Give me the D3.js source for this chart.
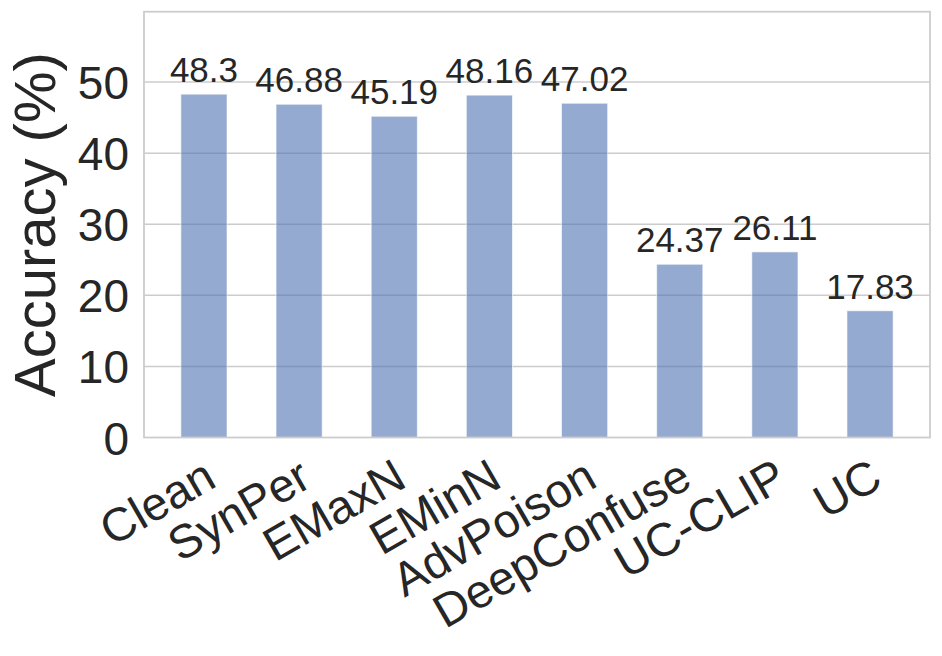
<!DOCTYPE html>
<html>
<head>
<meta charset="utf-8">
<script src="https://cdn.jsdelivr.net/npm/d3@7/dist/d3.min.js"></script>
<style>
  html, body { margin: 0; padding: 0; background: #ffffff; }
  svg { display: block; }
  text { font-family: "Liberation Sans", Arial, sans-serif; fill: #262626; }
</style>
</head>
<body>
<svg id="chart" width="942" height="656"></svg>
<script>
const categories = ["Clean", "SynPer", "EMaxN", "EMinN", "AdvPoison", "DeepConfuse", "UC-CLIP", "UC"];
const accuracy = [48.3, 46.88, 45.19, 48.16, 47.02, 24.37, 26.11, 17.83];
const yTicks = [0, 10, 20, 30, 40, 50];
const yLabel = "Accuracy (%)";

(function () {
const svg = d3.select("#chart");
const mLeft = 144, mRight = 930, mTop = 11.7, mBottom = 437.5;

const x = d3.scalePoint().domain(categories).range([mLeft, mRight]).padding(0.63);
const y = d3.scaleLinear().domain([0, 59.9]).range([mBottom, mTop]);
const barW = x.step() * 0.485;

// gridlines
svg.append("g").selectAll("line").data(yTicks.filter(d => d > 0)).join("line")
  .attr("x1", mLeft).attr("x2", mRight)
  .attr("y1", d => y(d)).attr("y2", d => y(d))
  .attr("stroke", "#cccccc").attr("stroke-width", 1.5);

// bars
svg.append("g").selectAll("rect").data(categories).join("rect")
  .attr("x", d => x(d) - barW / 2)
  .attr("width", barW)
  .attr("y", (d, i) => y(accuracy[i]))
  .attr("height", (d, i) => y(0) - y(accuracy[i]))
  .attr("fill", "#4c72b0").attr("fill-opacity", 0.6)
  .attr("stroke", "#ffffff").attr("stroke-opacity", 0.6).attr("stroke-width", 1);

// frame
svg.append("rect")
  .attr("x", mLeft).attr("y", mTop)
  .attr("width", mRight - mLeft).attr("height", mBottom - mTop)
  .attr("fill", "none").attr("stroke", "#cccccc").attr("stroke-width", 1.8);

// value labels
svg.append("g").selectAll("text").data(categories).join("text")
  .attr("x", d => x(d))
  .attr("y", (d, i) => y(accuracy[i]) - 12)
  .attr("text-anchor", "middle")
  .attr("font-size", 35)
  .text((d, i) => String(accuracy[i]));

// y axis tick labels
const yAxis = d3.axisLeft(y).tickValues(yTicks).tickSize(0).tickPadding(15).tickFormat(d3.format("d"));
const gy = svg.append("g").attr("transform", `translate(${mLeft},0)`).call(yAxis);
gy.select(".domain").remove();
gy.selectAll("text")
  .attr("font-size", 46)
  .attr("font-family", "'Liberation Sans', Arial, sans-serif")
  .attr("fill", "#262626")
  .attr("dy", "0.36em");

// x axis tick labels (rotated)
const xAxis = d3.axisBottom(x).tickSize(0).tickPadding(0);
const gx = svg.append("g").attr("transform", `translate(0,${mBottom})`).call(xAxis);
gx.select(".domain").remove();
gx.selectAll("text")
  .attr("font-size", 47)
  .attr("font-family", "'Liberation Sans', Arial, sans-serif")
  .attr("fill", "#262626")
  .attr("text-anchor", "end")
  .attr("dy", null)
  .attr("y", 0)
  .attr("transform", "translate(14,48) rotate(-30)");

// y label
svg.append("text")
  .attr("transform", `translate(55,${(mTop + mBottom) / 2}) rotate(-90)`)
  .attr("text-anchor", "middle")
  .attr("font-size", 58)
  .text(yLabel);
})();
</script>
</body>
</html>
